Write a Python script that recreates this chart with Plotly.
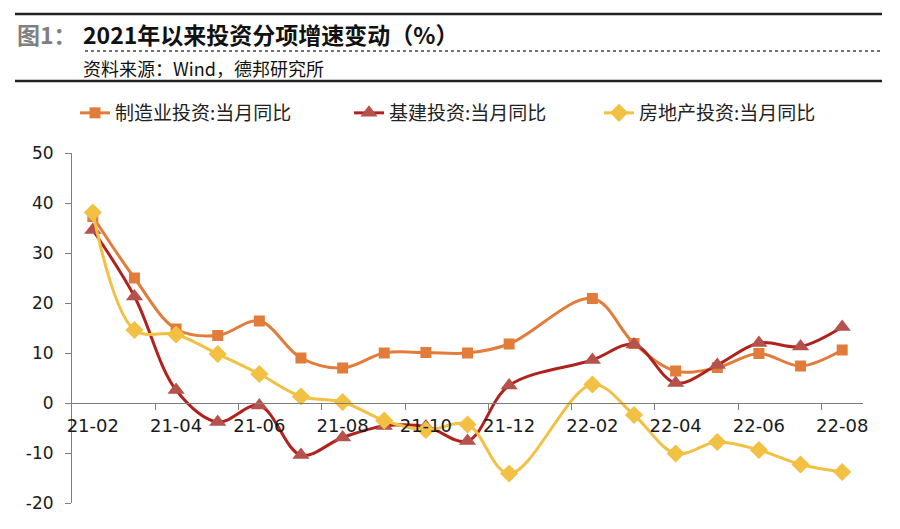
import plotly.graph_objects as go

months = ["21-02", "21-03", "21-04", "21-05", "21-06", "21-07", "21-08", "21-09", "21-10",
          "21-11", "21-12", "22-01", "22-02", "22-03", "22-04", "22-05", "22-06", "22-07", "22-08"]
manufacturing = [37.3, 25.0, 14.8, 13.5, 16.4, 9.0, 7.0, 10.0, 10.1, 10.0, 11.8, None,
                 20.9, 11.9, 6.4, 7.1, 9.9, 7.4, 10.6]
infrastructure = [34.6, 21.3, 2.6, -3.8, -0.5, -10.4, -6.9, -4.6, -4.7, -7.6, 3.5, None,
                  8.6, 11.7, 4.0, 7.6, 12.0, 11.3, 15.2]
real_estate = [38.1, 14.6, 13.7, 9.8, 5.8, 1.3, 0.2, -3.5, -5.4, -4.3, -14.1, None,
               3.7, -2.4, -10.1, -7.8, -9.4, -12.3, -13.8]
series_names = ["制造业投资:当月同比", "基建投资:当月同比", "房地产投资:当月同比"]
y_ticks = [-20, -10, 0, 10, 20, 30, 40, 50]

W, H = 900, 529
L, R, T, B = 72, 37, 153, 26
PW, PH = W - L - R, H - T - B


def px_x(px):
    return (px - L) / PW


def px_y(py):
    return (H - B - py) / PH


idx = list(range(len(months)))
fig = go.Figure()

styles = [
    dict(line="#E27C3A", marker="#E27C3A", symbol="square", size=11, legend="legend"),
    dict(line="#B0221E", marker="#B5524D", symbol="triangle-up", size=15, legend="legend2"),
    dict(line="#F2C143", marker="#F2C143", symbol="diamond", size=14, legend="legend3"),
]
for name, vals, st in zip(series_names, [manufacturing, infrastructure, real_estate], styles):
    fig.add_trace(go.Scatter(
        x=idx, y=vals, name=name, mode="lines+markers", connectgaps=True,
        line=dict(color=st["line"], width=3, shape="spline", smoothing=1.0),
        marker=dict(color=st["marker"], symbol=st["symbol"], size=st["size"], line=dict(width=0)),
        legend=st["legend"], cliponaxis=False,
    ))

x_font = dict(family="DejaVu Sans", size=18, color="#1a1a1a")
y_font = dict(family="DejaVu Sans", size=17, color="#1a1a1a")
leg_font = dict(family="Noto Sans CJK SC", size=19, color="#222222")

fig.update_layout(
    width=W, height=H, margin=dict(l=L, r=R, t=T, b=B),
    paper_bgcolor="white", plot_bgcolor="white",
    xaxis=dict(
        range=[-0.5, len(months) - 0.5], anchor="free", position=(0 - y_ticks[0]) / (y_ticks[-1] - y_ticks[0]),
        showgrid=False, zeroline=False, showline=True, linecolor="#7f7f7f", linewidth=1,
        tickmode="array", tickvals=idx[::2], ticktext=months[::2], ticks="", ticklabelstandoff=6,
        tickfont=x_font,
        minor=dict(tickmode="array", tickvals=[i + 1.5 for i in idx[::2][:-1]], ticks="outside",
                   ticklen=6, tickcolor="#7f7f7f", showgrid=False),
    ),
    yaxis=dict(
        range=[y_ticks[0], y_ticks[-1]], tickmode="array", tickvals=y_ticks,
        ticktext=[str(v) for v in y_ticks], showgrid=False, zeroline=False,
        showline=True, linecolor="#7f7f7f", linewidth=1, ticks="outside", ticklen=6,
        tickcolor="#7f7f7f", tickfont=y_font, ticklabelstandoff=8,
    ),
    legend=dict(x=px_x(75), y=px_y(113), xanchor="left", yanchor="middle", orientation="h",
                font=leg_font, bgcolor="rgba(0,0,0,0)"),
    legend2=dict(x=px_x(349), y=px_y(113), xanchor="left", yanchor="middle", orientation="h",
                 font=leg_font, bgcolor="rgba(0,0,0,0)"),
    legend3=dict(x=px_x(599), y=px_y(113), xanchor="left", yanchor="middle", orientation="h",
                 font=leg_font, bgcolor="rgba(0,0,0,0)"),
    showlegend=True,
)

# Header
fig.add_annotation(x=px_x(15), y=px_y(34), xref="paper", yref="paper", xanchor="left", yanchor="middle",
                   text="<b>图1：</b>", showarrow=False,
                   font=dict(family="Noto Sans CJK SC", size=23, color="#7f7f7f"))
fig.add_annotation(x=px_x(81), y=px_y(34), xref="paper", yref="paper", xanchor="left", yanchor="middle",
                   text="<b>2021年以来投资分项增速变动（%）</b>", showarrow=False,
                   font=dict(family="Noto Sans CJK SC", size=23, color="#111111"))
fig.add_annotation(x=px_x(81), y=px_y(68), xref="paper", yref="paper", xanchor="left", yanchor="middle",
                   text="资料来源：Wind，德邦研究所", showarrow=False,
                   font=dict(family="Noto Sans CJK SC", size=18, color="#111111"))
fig.add_shape(type="line", xref="paper", yref="paper", x0=px_x(15), x1=px_x(882), y0=px_y(14), y1=px_y(14),
              line=dict(color="#222222", width=2.5))
fig.add_shape(type="line", xref="paper", yref="paper", x0=px_x(85), x1=px_x(882), y0=px_y(51), y1=px_y(51),
              line=dict(color="#444444", width=1.5, dash="dot"))
fig.add_shape(type="line", xref="paper", yref="paper", x0=px_x(15), x1=px_x(882), y0=px_y(81), y1=px_y(81),
              line=dict(color="#222222", width=2.5))

fig.write_html("out.html", config={"displayModeBar": False},
               post_script="document.body.style.margin='0px';")
